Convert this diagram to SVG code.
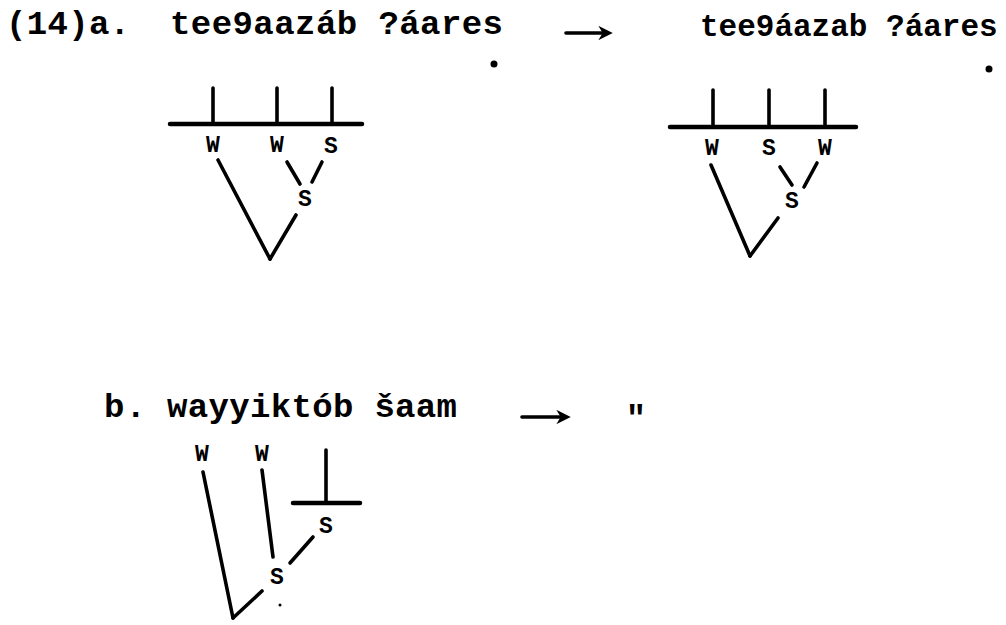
<svg xmlns="http://www.w3.org/2000/svg" width="1006" height="625" viewBox="0 0 1006 625">
<style>
.t{font-family:"Liberation Mono","Courier New",monospace;font-weight:bold;font-size:34px;fill:#000}
.r{font-family:"Liberation Mono","Courier New",monospace;font-weight:bold;font-size:31px;fill:#000}
.l{font-family:"Liberation Mono","Courier New",monospace;font-weight:bold;font-size:23px;fill:#000;text-anchor:middle}
.s{stroke:#000;stroke-width:3.6;stroke-linecap:round;fill:none}
.b{stroke:#000;stroke-width:4.5;stroke-linecap:round;fill:none}
</style>
<defs>
<marker id="ah" viewBox="0 0 10 10" refX="6" refY="5" markerWidth="4" markerHeight="4" orient="auto" markerUnits="strokeWidth">
<path d="M0,0 L10,5 L0,10 L3,5 Z" fill="#000"/>
</marker>
</defs>
<rect width="1006" height="625" fill="#fff"/>
<g id="row-a-label"><text class="t" x="6" y="34" textLength="124">(14)a.</text></g>
<g id="row-a-left-text">
<text class="t" x="170" y="34" textLength="333" lengthAdjust="spacing">tee9aazáb ?áares</text>
<circle cx="494" cy="64" r="3.5" fill="#000"/>
</g>
<g id="row-a-right-text">
<text class="r" x="700" y="36">tee9áazab ?áares</text>
<circle cx="989" cy="69" r="3.5" fill="#000"/>
</g>
<g id="left-tree">
<text class="l" x="213" y="152">W</text>
<text class="l" x="277" y="152">W</text>
<text class="l" x="331" y="153">S</text>
<text class="l" x="305" y="206">S</text>
</g>
<g id="right-tree">
<text class="l" x="712" y="155">W</text>
<text class="l" x="769" y="155">S</text>
<text class="l" x="825" y="155">W</text>
<text class="l" x="792" y="208">S</text>
</g>
<g id="row-b-label"><text class="t" x="104" y="417" textLength="42">b.</text></g>
<g id="row-b-text"><text class="t" x="167" y="417" textLength="290" lengthAdjust="spacing">wayyiktób šaam</text></g>
<g id="ditto"><text class="t" x="636" y="428" text-anchor="middle">"</text></g>
<g id="row-b-tree">
<text class="l" x="202" y="461">W</text>
<text class="l" x="262" y="461">W</text>
<text class="l" x="326" y="533">S</text>
<text class="l" x="277" y="584">S</text>
<circle cx="280" cy="605" r="1.5" fill="#000"/>
</g>
<g id="connectors">
<line class="s" x1="566" y1="33" x2="607" y2="33" marker-end="url(#ah)"/>
<line class="s" x1="522" y1="417" x2="565" y2="417" marker-end="url(#ah)"/>
<line class="s" x1="213" y1="88" x2="213" y2="124"/>
<line class="s" x1="277" y1="88" x2="277" y2="124"/>
<line class="s" x1="332" y1="88" x2="332" y2="124"/>
<line class="b" x1="170" y1="124" x2="362" y2="124"/>
<line class="s" x1="218" y1="160" x2="270" y2="259"/>
<line class="s" x1="270" y1="259" x2="296" y2="215"/>
<line class="s" x1="287" y1="162" x2="300" y2="184"/>
<line class="s" x1="322" y1="162" x2="312" y2="182"/>
<line class="s" x1="713" y1="90" x2="713" y2="127"/>
<line class="s" x1="769" y1="90" x2="769" y2="127"/>
<line class="s" x1="825" y1="90" x2="825" y2="127"/>
<line class="b" x1="670" y1="127" x2="856" y2="127"/>
<line class="s" x1="711" y1="165" x2="750" y2="256"/>
<line class="s" x1="750" y1="256" x2="778" y2="218"/>
<line class="s" x1="780" y1="167" x2="792" y2="185"/>
<line class="s" x1="817" y1="163" x2="804" y2="187"/>
<line class="s" x1="326" y1="450" x2="326" y2="502"/>
<line class="b" x1="293" y1="503" x2="360" y2="503"/>
<line class="s" x1="203" y1="472" x2="233" y2="618"/>
<line class="s" x1="233" y1="618" x2="262" y2="591"/>
<line class="s" x1="262" y1="470" x2="273" y2="557"/>
<line class="s" x1="290" y1="563" x2="313" y2="537"/>
</g>
</svg>
